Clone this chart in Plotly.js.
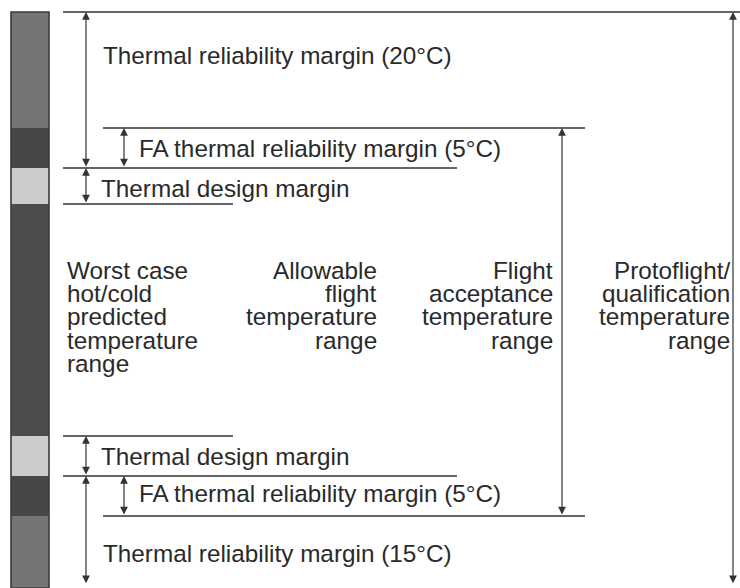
<!DOCTYPE html>
<html>
<head>
<meta charset="utf-8">
<script src="https://cdn.plot.ly/plotly-3.0.1.min.js"></script>
<style>html,body{margin:0;padding:0;background:#fff;}#chart{width:740px;height:588px;}</style>
</head>
<body>
<div id="chart"></div>
<script>
// ---------------- DATA ----------------
// Temperature levels (schematic °C scale, hot at top, cold at bottom)
const levelKeys  = ['pfqHot', 'faHot', 'aftHot', 'predHot', 'predCold', 'aftCold', 'faCold', 'pfqCold'];
const levelTemps = [72, 57.5, 52.5, 48, 19, 14, 9, 0.4];

// Stacked segments of the left-hand temperature bar
const segmentNames = ['Thermal reliability margin', 'FA thermal reliability margin', 'Thermal design margin',
                      'Worst case predicted range', 'Thermal design margin', 'FA thermal reliability margin',
                      'Thermal reliability margin'];
const segmentLow  = ['faHot', 'aftHot', 'predHot', 'predCold', 'aftCold', 'faCold', 'floor'];
const segmentHigh = ['pfqHot', 'faHot', 'aftHot', 'predHot', 'predCold', 'aftCold', 'faCold'];

// Margin labels
const marginLabels = ['Thermal reliability margin (20°C)', 'FA thermal reliability margin (5°C)',
                      'Thermal design margin', 'Thermal design margin',
                      'FA thermal reliability margin (5°C)', 'Thermal reliability margin (15°C)'];
// Temperature-range labels (one entry per text line)
const rangeLabels = [
  ['Worst case', 'hot/cold', 'predicted', 'temperature', 'range'],
  ['Allowable', 'flight', 'temperature', 'range'],
  ['Flight', 'acceptance', 'temperature', 'range'],
  ['Protoflight/', 'qualification', 'temperature', 'range']
];
// Ranges spanned by the double arrows [low level, high level]
const arrowLow  = ['aftHot', 'aftHot', 'predHot', 'aftCold', 'faCold', 'pfqCold', 'aftCold', 'faCold', 'pfqCold'];
const arrowHigh = ['pfqHot', 'faHot', 'aftHot', 'aftCold', 'faHot', 'pfqHot', 'predCold', 'aftCold', 'aftCold'];

// ---------------- LAYOUT / STYLE ----------------
const X_RANGE = [0, 740], Y_RANGE = [0, 73.5];
const lv = k => (k === 'floor' ? Y_RANGE[0] : levelTemps[levelKeys.indexOf(k)]);
const INK = '#333333', TEXT = '#2a2a2a';
const FONT = {family: 'Liberation Sans, Arial, Helvetica, sans-serif', size: 24.3, color: TEXT};

const barX = 30, barW = 38;
const segmentColors = ['#757575', '#474747', '#cccccc', '#4c4c4c', '#cccccc', '#474747', '#757575'];

// horizontal level lines: level, x start, x end
const levelLines = [
  ['pfqHot', 63, 740], ['faHot', 103, 585], ['aftHot', 63, 457], ['predHot', 63, 233],
  ['predCold', 63, 233], ['aftCold', 63, 457], ['faCold', 103, 585]
];
const arrowX = [86, 124, 86, 387, 562, 733, 86, 124, 86];
// margin label placement (x left, y)
const marginPos = [[102, 66.6], [138, 54.9], [100, 49.9], [100, 16.4], [138, 11.8], [102, 4.3]];
// range label placement: x anchor, alignment
const rangePos = [[66, 'left'], [378, 'right'], [554, 'right'], [731, 'right']];
const rangeTop = 39.7, rangeStep = 2.9;

const traces = [];
// bar segments
segmentNames.forEach((n, i) => {
  const lo = lv(segmentLow[i]), hi = lv(segmentHigh[i]);
  traces.push({type: 'bar', x: [barX], y: [hi - lo], base: [lo], width: [barW], name: n,
    marker: {color: segmentColors[i], line: {width: 0}}, hoverinfo: 'name', showlegend: false});
});
// bar outline
const barBottom = Y_RANGE[0], barTop = lv('pfqHot');
traces.push({type: 'bar', x: [barX], y: [barTop - barBottom], base: [barBottom], width: [barW],
  marker: {color: 'rgba(0,0,0,0)', line: {width: 1.6, color: '#3a3a3a'}}, hoverinfo: 'skip', showlegend: false});
// level lines
levelLines.forEach(([k, x0, x1]) => {
  traces.push({type: 'scatter', mode: 'lines', x: [x0, x1], y: [lv(k), lv(k)],
    line: {color: INK, width: 1.3}, hoverinfo: 'skip', showlegend: false});
});

const annotations = [];
// double arrows
arrowX.forEach((x, i) => {
  annotations.push({x: x, y: lv(arrowHigh[i]), ax: x, ay: lv(arrowLow[i]), xref: 'x', yref: 'y',
    axref: 'x', ayref: 'y', text: '', showarrow: true, arrowside: 'end+start',
    arrowhead: 2, startarrowhead: 2, arrowsize: 1.3, startarrowsize: 1.3, arrowwidth: 1.2,
    arrowcolor: INK, standoff: 0, startstandoff: 0});
});
// margin labels
marginLabels.forEach((t, i) => {
  annotations.push({x: marginPos[i][0], y: marginPos[i][1], xref: 'x', yref: 'y', text: t,
    showarrow: false, xanchor: 'left', yanchor: 'middle', font: FONT, borderpad: 0});
});
// range labels
rangeLabels.forEach((lines, j) => {
  lines.forEach((t, i) => {
    annotations.push({x: rangePos[j][0], y: rangeTop - i * rangeStep, xref: 'x', yref: 'y', text: t,
      showarrow: false, xanchor: rangePos[j][1], yanchor: 'middle', font: FONT, borderpad: 0});
  });
});

const layout = {
  width: 740, height: 588, autosize: false,
  margin: {l: 0, r: 0, t: 0, b: 0, pad: 0},
  paper_bgcolor: '#ffffff', plot_bgcolor: '#ffffff',
  barmode: 'overlay', showlegend: false,
  xaxis: {range: X_RANGE, visible: false, fixedrange: true},
  yaxis: {range: Y_RANGE, visible: false, fixedrange: true},
  annotations: annotations,
  font: FONT
};
Plotly.newPlot('chart', traces, layout, {displayModeBar: false, staticPlot: true});
</script>
</body>
</html>
